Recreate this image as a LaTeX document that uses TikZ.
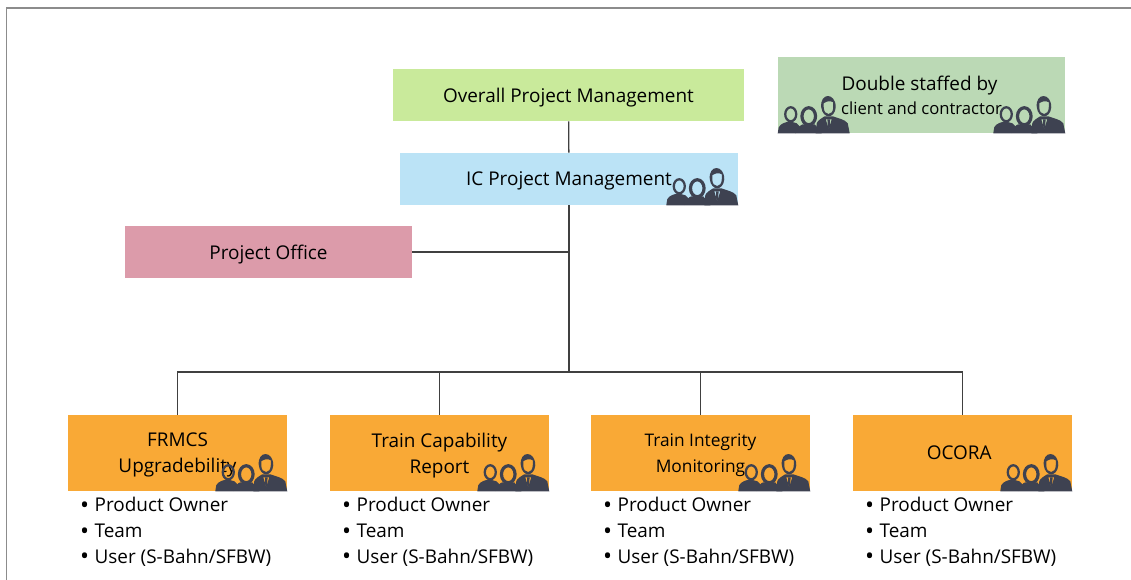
\documentclass[tikz,border=0pt]{standalone}
\usepackage{fontspec}
\setmainfont{Open Sans}
\usetikzlibrary{positioning}
\definecolor{scuro}{HTML}{3E4251}
\definecolor{cornice}{HTML}{8C8C8C}
\definecolor{linea}{HTML}{404040}
\definecolor{verde}{HTML}{C9EA9B}
\definecolor{azzurro}{HTML}{BBE3F6}
\definecolor{rosa}{HTML}{DC9BAA}
\definecolor{salvia}{HTML}{BBD9B5}
\definecolor{arancio}{HTML}{F9A936}
\newcommand{\punto}{\makebox[11pt][l]{\raisebox{-1.2pt}{\fontsize{18}{19}\selectfont\textbullet}}}
\newcommand{\ruoli}{\punto Product Owner\\\punto Team\\\punto User (S-Bahn/SFBW)}
\tikzset{
  box/.style={inner sep=0pt, align=center, text depth=0pt, font=\fontsize{14.2}{19.5}\selectfont},
  lista/.style={inner sep=0pt, align=left, anchor=north west, font=\fontsize{14.2}{19.2}\selectfont},
  collegamento/.style={draw=linea, line width=1pt},
  pics/staff/.style={code={
    % Donna a sinistra
    \fill[scuro] (0,0) -- (1,-6) .. controls (3,-10) and (8,-11) .. (12,-12) -- (19,-10) -- (24,-5) -- (18,0) -- cycle;
    \draw[scuro, line width=1.7pt] (13,-19) ellipse (5.5 and 7);
    % Donna al centro
    \fill[scuro] (18,0) .. controls (20,-5) and (22,-8) .. (25,-9) -- (37,-9) -- (44,0) -- cycle;
    \draw[scuro, line width=2.4pt] (31,-17) ellipse (6.8 and 8.5);
    % Uomo a destra
    \fill[scuro, even odd rule] (38,0) -- (39,-10) .. controls (40,-13) and (44,-15) .. (47,-17) -- (55,-17) .. controls (60,-15) and (67,-14) .. (70,-10) -- (72,0) -- cycle
        (48,-14) -- (51,-4) -- (54,-14) -- cycle;
    \fill[scuro] (49.7,-14) -- (52.3,-14) -- (52,-6) -- (51,-4) -- (50,-6) -- cycle;
    \fill[scuro, even odd rule] (43.5,-26) .. controls (42,-41) and (58,-41) .. (58,-26) .. controls (57,-14) and (45,-14) .. (43.5,-26)
        (46,-26) .. controls (46,-17) and (55.5,-17) .. (55.5,-26) -- (55.5,-31) .. controls (52,-33) and (49,-32) .. (46,-30) -- cycle;
  }}
}
\begin{document}
\begin{tikzpicture}[x=0.75pt, y=-0.75pt]
    \useasboundingbox (0,0) rectangle (1131,580);
    % Cornice
    \draw[cornice, line width=1pt] (6.5,580) -- (6.5,8) -- (1131,8);

    % Riquadri in alto
    \node[box, fill=verde, minimum width=263.25pt, minimum height=39pt] (overall) at (568.5,95) {Overall Project Management};
    \node[box, fill=azzurro, minimum width=253.5pt, minimum height=39pt] (ic) at (569,179) {IC Project Management};
    \node[box, fill=rosa, minimum width=215.25pt, minimum height=39pt] (office) at (268.5,252) {Project Office};
    \node[box, fill=salvia, minimum width=215.25pt, minimum height=57pt] (double) at (921.5,95) {\hspace*{-3pt}Double staffed by\\[-1.5pt]{\fontsize{12.5}{12.5}\selectfont client and contractor}};

    % Riquadri in basso
    \node[box, fill=arancio, minimum width=164.25pt, minimum height=57pt] (frmcs) at (177.5,453) {FRMCS\\Upgradebility};
    \node[box, fill=arancio, minimum width=164.25pt, minimum height=57pt] (capability) at (439.5,453) {Train Capability\\Report};
    \node[box, fill=arancio, minimum width=164.25pt, minimum height=57pt] (integrity) at (700.5,453) {{\fontsize{13}{13}\selectfont Train Integrity}\\{\fontsize{13}{13}\selectfont Monitoring}};
    \node[box, fill=arancio, minimum width=164.25pt, minimum height=57pt] (ocora) at (962.5,453) {\hspace*{-5pt}OCORA};

    % Collegamenti
    \coordinate (bus) at (569,372);
    \draw[collegamento] (overall) -- (ic);
    \draw[collegamento] (ic) -- (bus);
    \draw[collegamento] (office.east) -- (office.east -| bus);
    \foreach \n in {frmcs,capability,integrity,ocora}
        \draw[collegamento] (bus) -| (\n.north);

    % Figure
    \foreach \n in {ic,frmcs,capability,integrity,ocora,double}
        \pic[shift={(-72,0)}] at (\n.south east) {staff};
    \pic at (double.south west) {staff};

    % Elenchi
    \foreach \n in {frmcs,capability,integrity,ocora}
        \node[lista, xshift=9pt, yshift=-4.5pt] (\n-lista) at (\n.south west) {\ruoli};
\end{tikzpicture}
\end{document}
